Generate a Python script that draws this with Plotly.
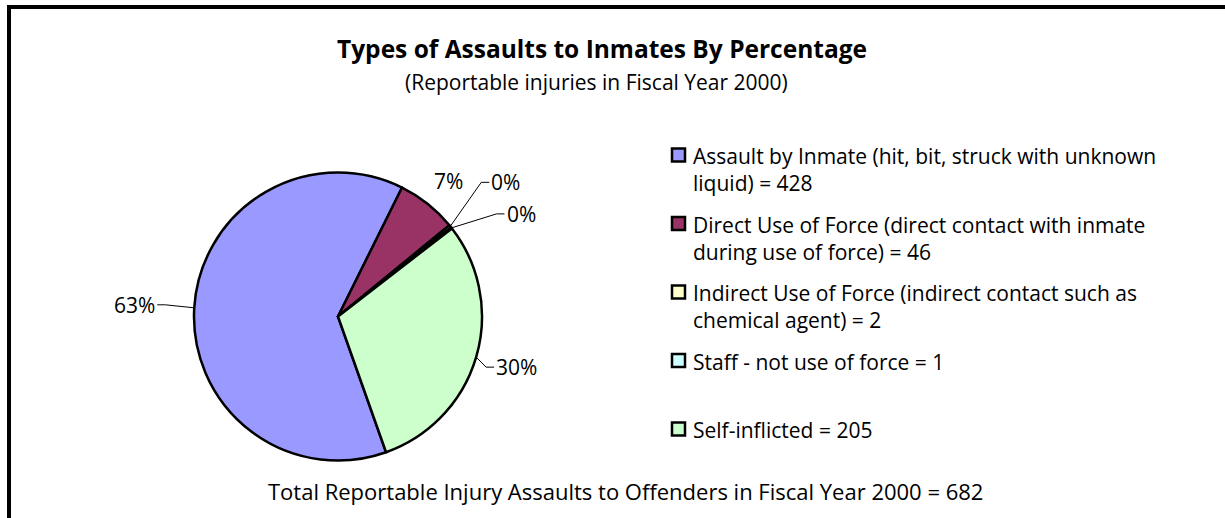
import math
import textwrap
import plotly.graph_objects as go

# ---------------- data ----------------
categories = [
    "Assault by Inmate (hit, bit, struck with unknown liquid)",
    "Direct Use of Force (direct contact with inmate during use of force)",
    "Indirect Use of Force (indirect contact such as chemical agent)",
    "Staff - not use of force",
    "Self-inflicted",
]
counts = [428, 46, 2, 1, 205]
colors = ["#9999FF", "#993366", "#FFFFCC", "#CCFFFF", "#CCFFCC"]

title_text = "Types of Assaults to Inmates By Percentage"
subtitle_text = "(Reportable injuries in Fiscal Year 2000)"
footer_text = "Total Reportable Injury Assaults to Offenders in Fiscal Year 2000 = 682"

# ---------------- layout constants ----------------
W, H = 1225, 518
CX, CY, R = 338.0, 316.5, 144.0
ROTATION = 160.5
FONT = "Open Sans"
TXT = 21

# label placement styles (pixel offset of leader elbow from slice edge, side)
label_styles = [(-29, -3, "left"), (21, -23, "none"), (31, -44, "right"), (45, -14, "right"), (10, 10, "right")]
STUB = 8


def px(x):
    return x / W


def py(y):
    return 1 - y / H


total = sum(counts)

fig = go.Figure()
fig.add_trace(go.Pie(
    labels=categories,
    values=counts,
    sort=False,
    direction="clockwise",
    rotation=ROTATION,
    marker=dict(colors=colors, line=dict(color="black", width=2.5)),
    textinfo="none",
    hoverinfo="label+value+percent",
    domain=dict(x=[px(CX - R), px(CX + R)], y=[py(CY + R), py(CY - R)]),
    showlegend=False,
))

annotations = []
shapes = []

# percentage labels with leader lines, computed from slice mid-angles
cum = 0.0
for v, (dx, dy, side) in zip(counts, label_styles):
    mid = ROTATION + (cum + v / 2) / total * 360.0
    cum += v
    a = math.radians(mid)
    ex, ey = CX + R * math.sin(a), CY - R * math.cos(a)
    pct = f"{round(100 * v / total)}%"
    bx, by = ex + dx, ey + dy
    if side == "none":
        annotations.append(dict(x=px(bx), y=py(by), xref="paper", yref="paper", text=pct,
                                showarrow=False, xanchor="center", yanchor="middle", borderpad=0,
                                font=dict(family=FONT, size=TXT, color="black")))
        continue
    sx = bx + STUB if side == "right" else bx - STUB
    shapes.append(dict(type="path", xref="paper", yref="paper",
                       path=f"M {px(ex)} {py(ey)} L {px(bx)} {py(by)} L {px(sx)} {py(by)}",
                       line=dict(color="black", width=1)))
    annotations.append(dict(x=px(sx + (1 if side == "right" else -1)), y=py(by), xref="paper", yref="paper",
                            text=pct, showarrow=False, borderpad=0,
                            xanchor="left" if side == "right" else "right", yanchor="middle",
                            font=dict(family=FONT, size=TXT, color="black")))

# custom legend
LEG_X, LEG_Y0, LEG_DY, SQ = 672.0, 155.0, 68.5, 13.0
for i, (cat, v, c) in enumerate(zip(categories, counts, colors)):
    yc = LEG_Y0 + i * LEG_DY
    shapes.append(dict(type="rect", xref="paper", yref="paper",
                       x0=px(LEG_X), x1=px(LEG_X + SQ), y0=py(yc + SQ / 2), y1=py(yc - SQ / 2),
                       fillcolor=c, line=dict(color="black", width=2.5)))
    text = "<br>".join(textwrap.wrap(f"{cat} = {v}", width=48))
    annotations.append(dict(x=px(LEG_X + SQ + 7), y=py(yc - 14), xref="paper", yref="paper",
                            text=text, showarrow=False, xanchor="left", yanchor="top", align="left",
                            borderpad=0,
                            font=dict(family=FONT, size=TXT, color="black")))

# titles and footer
annotations.append(dict(x=px(602), y=py(48), xref="paper", yref="paper", text=f"<b>{title_text}</b>",
                        showarrow=False, xanchor="center", yanchor="middle",
                        font=dict(family=FONT, size=24.5, color="black")))
annotations.append(dict(x=px(596), y=py(82), xref="paper", yref="paper", text=subtitle_text,
                        showarrow=False, xanchor="center", yanchor="middle",
                        font=dict(family=FONT, size=21, color="black")))
annotations.append(dict(x=px(625), y=py(491), xref="paper", yref="paper", text=footer_text,
                        showarrow=False, xanchor="center", yanchor="middle",
                        font=dict(family=FONT, size=22, color="black")))

# outer frame (extends past right and bottom edges)
shapes.append(dict(type="rect", xref="paper", yref="paper",
                   x0=px(9), y1=py(7), x1=1.2, y0=-0.2,
                   line=dict(color="black", width=4), fillcolor="rgba(0,0,0,0)", layer="above"))

fig.update_layout(
    width=W, height=H,
    margin=dict(l=0, r=0, t=0, b=0),
    paper_bgcolor="white", plot_bgcolor="white",
    annotations=annotations,
    shapes=shapes,
    showlegend=False,
)

fig.write_html("out.html")
